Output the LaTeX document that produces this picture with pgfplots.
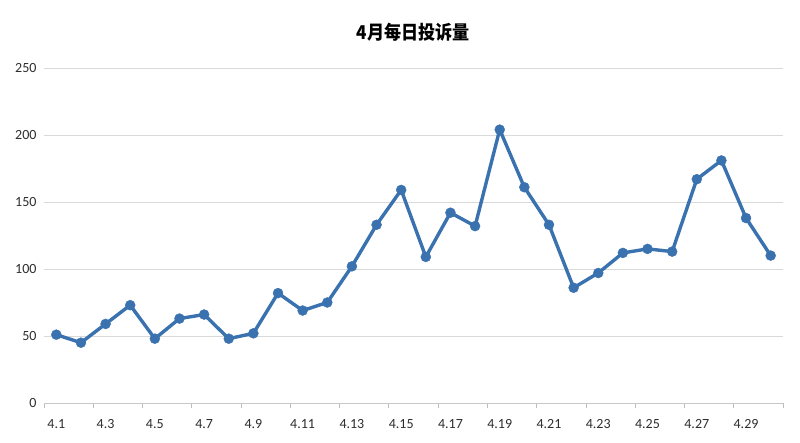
\documentclass[border=0pt]{standalone}
\usepackage{pgfplots}
\pgfplotsset{compat=1.18}
\usepackage{fontspec}
\setmainfont{Carlito}
\newfontfamily\cjk{Noto Sans CJK SC}
\definecolor{lineblue}{RGB}{58,114,176}
\definecolor{gridgray}{RGB}{217,217,217}
\definecolor{labgray}{RGB}{45,45,45}
\begin{document}
\begin{tikzpicture}
\path[use as bounding box] (0pt,0pt) rectangle (800pt,443pt);
\begin{axis}[
  at={(44pt,40pt)}, anchor=south west,
  scale only axis, width=739pt, height=335pt,
  xmin=0.5, xmax=30.5, ymin=0, ymax=250,
  ytick={0,50,...,250},
  xtick={1,3,...,29},
  xticklabels={4.1,4.3,4.5,4.7,4.9,4.11,4.13,4.15,4.17,4.19,4.21,4.23,4.25,4.27,4.29},
  minor xtick={0.5,2.5,...,30.5},
  tick align=outside,
  major tick length=0pt,
  minor tick length=5pt,
  minor x tick style={draw=gridgray!70!gray, line width=0.8pt},
  major tick style={draw=none},
  ymajorgrids,
  grid style={draw=gridgray, line width=0.8pt},
  axis x line*=bottom,
  axis y line*=left,
  y axis line style={draw=none},
  x axis line style={draw=gridgray!80!gray, line width=0.8pt, -},
  ticklabel style={font=\fontsize{14}{14}\selectfont, text=labgray},
  yticklabel style={xshift=-4pt},
  xticklabel style={yshift=-13pt},
  /pgf/number format/assume math mode=true,
  title={\scalebox{0.9}[1]{\cjk\bfseries 4月每日投诉量}},
  title style={font=\fontsize{19}{19}\selectfont, anchor=center, at={(0.5,1)}, yshift=30pt},
  clip=false,
]
\addplot[color=lineblue, line width=3.4pt, mark=*, mark size=5pt, mark options={solid, fill=lineblue, draw=lineblue, line width=0.4pt}] coordinates {
(1,51) (2,45) (3,59) (4,73) (5,48) (6,63) (7,66) (8,48) (9,52) (10,82)
(11,69) (12,75) (13,102) (14,133) (15,159) (16,109) (17,142) (18,132) (19,204) (20,161)
(21,133) (22,86) (23,97) (24,112) (25,115) (26,113) (27,167) (28,181) (29,138) (30,110)
};
\end{axis}
\end{tikzpicture}
\end{document}
